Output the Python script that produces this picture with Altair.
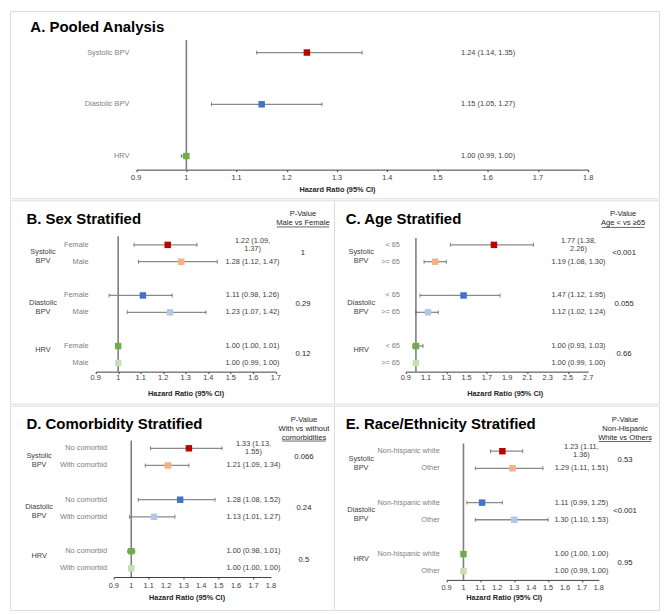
import altair as alt
import pandas as pd

SX = 651 / 669
SY = 597 / 615
FONT = "Liberation Sans"
FS = 7.4
LH = 8.3

GROUPS = ["Systolic\nBPV", "Diastolic\nBPV", "HRV"]
DARK = ["#C00000", "#4472C4", "#70AD47"]
LIGHT = ["#F4B183", "#B4C7E7", "#C5E0B4"]
AXIS_TITLE = "Hazard Ratio (95% CI)"

# ---- A. Pooled
a_title = "A. Pooled Analysis"
a_labels = ["Systolic BPV", "Diastolic BPV", "HRV"]
a_hr = [1.24, 1.15, 1.00]
a_lo = [1.14, 1.05, 0.99]
a_hi = [1.35, 1.27, 1.00]
a_text = ["1.24 (1.14, 1.35)", "1.15 (1.05, 1.27)", "1.00 (0.99, 1.00)"]
a_ticks = [0.9, 1.0, 1.1, 1.2, 1.3, 1.4, 1.5, 1.6, 1.7, 1.8]

# ---- B. Sex
b_title = "B. Sex Stratified"
b_subs = ["Female", "Male"]
b_hr = [1.22, 1.28, 1.11, 1.23, 1.00, 1.00]
b_lo = [1.07, 1.09, 0.96, 1.04, 1.00, 0.99]
b_hi = [1.35, 1.44, 1.24, 1.39, 1.01, 1.00]
b_text = ["1.22 (1.09,\n1.37)", "1.28 (1.12, 1.47)", "1.11 (0.98, 1.26)",
          "1.23 (1.07, 1.42)", "1.00 (1.00,  1.01)", "1.00 (0.99, 1.00)"]
b_p = ["1", "0.29", "0.12"]
b_head = "P-Value\nMale vs Female"
b_ticks = [0.9, 1.0, 1.1, 1.2, 1.3, 1.4, 1.5, 1.6, 1.7]

# ---- C. Age
c_title = "C. Age Stratified"
c_subs = ["< 65", ">= 65"]
c_hr = [1.77, 1.19, 1.47, 1.12, 1.00, 1.00]
c_lo = [1.34, 1.08, 1.04, 1.00, 0.97, 0.99]
c_hi = [2.16, 1.30, 1.83, 1.22, 1.07, 1.00]
c_text = ["1.77 (1.38,\n2.26)", "1.19 (1.08, 1.30)", "1.47 (1.12,  1.95)",
          "1.12 (1.02, 1.24)", "1.00 (0.93, 1.03)", "1.00 (0.99, 1.00)"]
c_p = ["<0.001", "0.055", "0.66"]
c_head = "P-Value\nAge < vs \u226565"
c_ticks = [0.9, 1.1, 1.3, 1.5, 1.7, 1.9, 2.1, 2.3, 2.5, 2.7]

# ---- D. Comorbidity
d_title = "D. Comorbidity Stratified"
d_subs = ["No comorbid", "With comorbid"]
d_hr = [1.33, 1.21, 1.28, 1.13, 1.00, 1.00]
d_lo = [1.11, 1.08, 1.04, 0.99, 0.98, 1.00]
d_hi = [1.52, 1.33, 1.48, 1.25, 1.02, 1.00]
d_text = ["1.33 (1.13,\n1.55)", "1.21 (1.09, 1.34)", "1.28 (1.08, 1.52)",
          "1.13 (1.01, 1.27)", "1.00 (0.98,  1.01)", "1.00 (1.00, 1.00)"]
d_p = ["0.066", "0.24", "0.5"]
d_head = "P-Value\nWith vs without\ncomorbidities"
d_ticks = [0.9, 1.0, 1.1, 1.2, 1.3, 1.4, 1.5, 1.6, 1.7, 1.8]

# ---- E. Race/Ethnicity
e_title = "E. Race/Ethnicity Stratified"
e_subs = ["Non-hispanic white", "Other"]
e_hr = [1.23, 1.29, 1.11, 1.30, 1.00, 1.00]
e_lo = [1.16, 1.07, 1.02, 1.07, 1.00, 0.99]
e_hi = [1.35, 1.47, 1.23, 1.50, 1.00, 1.00]
e_text = ["1.23 (1.11,\n1.36)", "1.29 (1.11, 1.51)", "1.11 (0.99,  1.25)",
          "1.30 (1.10, 1.53)", "1.00 (1.00, 1.00)", "1.00 (0.99, 1.00)"]
e_p = ["0.53", "<0.001", "0.95"]
e_head = "P-Value\nNon-Hispanic\nWhite vs Others"
e_ticks = [0.9, 1.0, 1.1, 1.2, 1.3, 1.4, 1.5, 1.6, 1.7, 1.8]


def one(v):
    return pd.DataFrame({"t": [v]})


def strat_rows(subs, hr, lo, hi, text):
    recs = []
    for g in range(3):
        for s in range(2):
            k = 2 * g + s
            recs.append(dict(idx=3 * g + s, sub=subs[s], hr=hr[k], lo=lo[k], hi=hi[k],
                             text=text[k], multi="\n" in text[k],
                             color=DARK[g] if s == 0 else LIGHT[g]))
    return pd.DataFrame(recs)


def strat_groups(p):
    return pd.DataFrame(dict(label=GROUPS, ymid=[0.5, 3.5, 6.5], p=p,
                             multi=["\n" in g for g in GROUPS]))


def panel(rows, L, W, H, groups=None):
    xs = alt.Scale(domain=[L["t0"], L["t1"]], range=[L["x0"] * SX, L["x1"] * SX],
                   nice=False, zero=False)
    ys = alt.Scale(domain=[0, L["n"]], range=[L["r0"] * SY, L["r1"] * SY],
                   nice=False, zero=False)
    axis = alt.Axis(values=L["ticks"], labels=False, title=AXIS_TITLE,
                    offset=L["ay"] * SY - H, tickSize=2,
                    domainColor="#404040", tickColor="#404040", domainWidth=1,
                    titleFont=FONT, titleFontSize=FS, titleFontWeight="bold",
                    titleColor="#262626", titleX=L["tx"] * SX,
                    titleY=(L["ty"] - L["ay"]) * SY, titleBaseline="middle",
                    titleAlign="center", grid=False)
    Y = alt.Y("idx:Q", scale=ys, axis=None)
    base = alt.Chart(rows)
    layers = []
    layers.append(base.mark_rule(color="#8a8a8a", strokeWidth=1.3).encode(
        x=alt.X("lo:Q", scale=xs, axis=axis), x2="hi:Q", y=Y))
    tick_df = pd.DataFrame({"v": L["ticks"], "lab": [f"{v:g}" for v in L["ticks"]]})
    layers.append(alt.Chart(tick_df).mark_text(
        align="center", baseline="middle", font=FONT, fontSize=FS,
        color="#404040").encode(x=alt.X("v:Q", scale=xs),
                                y=alt.value(L["ly"] * SY), text="lab:N"))
    layers.append(alt.Chart(one(1)).mark_rule(color="#7f7f7f", strokeWidth=1.6).encode(
        x=alt.X(datum=1.0, scale=xs),
        y=alt.value(L["reftop"] * SY), y2=alt.value(L["ay"] * SY)))
    for f in ["lo", "hi"]:
        layers.append(base.mark_tick(orient="vertical", size=4, thickness=1,
                                     color="#595959").encode(
            x=alt.X(f + ":Q", scale=xs), y=Y))
    layers.append(base.mark_square(size=42, opacity=1).encode(
        x=alt.X("hr:Q", scale=xs), y=Y,
        color=alt.Color("color:N", scale=None)))
    layers.append(base.mark_text(align="right", baseline="middle", font=FONT,
                                 fontSize=FS, color=L.get("lc", "#7f7f7f")).encode(
        x=alt.value(L["lx"] * SX), y=Y, text="sub:N"))
    if "multi" in rows.columns:
        layers.append(base.transform_filter("datum.multi").mark_text(
            align=L["ha"], baseline="middle", font=FONT, fontSize=FS,
            lineBreak="\n", lineHeight=LH, color="#404040", dy=-LH / 2).encode(
            x=alt.value(L["hx"] * SX), y=Y, text="text:N"))
        layers.append(base.transform_filter("!datum.multi").mark_text(
            align=L["ha"], baseline="middle", font=FONT, fontSize=FS,
            color="#404040").encode(
            x=alt.value(L["hx"] * SX), y=Y, text="text:N"))
    else:
        layers.append(base.mark_text(align=L["ha"], baseline="middle", font=FONT,
                                     fontSize=FS, color="#404040").encode(
            x=alt.value(L["hx"] * SX), y=Y, text="text:N"))
    layers.append(alt.Chart(one(L["title"])).mark_text(
        align="left", baseline="middle", font=FONT, fontSize=15, fontWeight="bold",
        color="#000000").encode(x=alt.value(L["tpos"][0] * SX),
                                y=alt.value(L["tpos"][1] * SY), text="t:N"))
    if groups is not None:
        GY = alt.Y("ymid:Q", scale=ys, axis=None)
        gb = alt.Chart(groups)
        layers.append(gb.transform_filter("datum.multi").mark_text(
            align="center", baseline="middle", font=FONT, fontSize=FS,
            lineBreak="\n", lineHeight=8.8, color="#404040", dy=-1).encode(
            x=alt.value(L["gx"] * SX), y=GY, text="label:N"))
        layers.append(gb.transform_filter("!datum.multi").mark_text(
            align="center", baseline="middle", font=FONT, fontSize=FS,
            color="#404040", dy=-4).encode(
            x=alt.value(L["gx"] * SX), y=GY, text="label:N"))
        layers.append(gb.mark_text(align="center", baseline="middle", font=FONT,
                                   fontSize=7.7, color="#262626").encode(
            x=alt.value(L["px"] * SX), y=GY, text="p:N"))
        layers.append(alt.Chart(one(L["head"])).mark_text(
            align="center", baseline="middle", font=FONT, fontSize=7.6,
            lineBreak="\n", lineHeight=9.1, color="#262626").encode(
            x=alt.value(L["hdx"] * SX), y=alt.value(L["hdy"] * SY), text="t:N"))
        ux, uw, uy = L["ul"]
        layers.append(alt.Chart(one(0)).mark_rule(color="#404040", strokeWidth=0.8).encode(
            x=alt.value((ux - uw / 2) * SX), x2=alt.value((ux + uw / 2) * SX),
            y=alt.value(uy * SY)))
    return alt.layer(*layers).properties(width=W, height=H)


rows_a = pd.DataFrame(dict(idx=[0, 1, 2], sub=a_labels, hr=a_hr, lo=a_lo, hi=a_hi,
                           text=a_text, color=DARK))
LA = dict(x0=130, x1=596, t0=0.9, t1=1.8, ticks=a_ticks, r0=43, r1=150, n=2, ay=164,
          ly=173, tx=337, ty=185, reftop=30, lx=123, hx=465, ha="left",
          title=a_title, tpos=(21, 17))
LB = dict(x0=88.3, x1=274, t0=0.9, t1=1.7, ticks=b_ticks, r0=46, r1=168, n=7, ay=177,
          ly=184, tx=181, ty=200, reftop=37, lx=81, gx=34, hx=250, ha="center",
          px=302, title=b_title, tpos=(17, 19), head=b_head, hdx=302, hdy=14.3,
          ul=(302, 54, 27.5), lc="#808080")
LC = dict(x0=74, x1=262, t0=0.9, t1=2.7, ticks=c_ticks, r0=46, r1=168, n=7, ay=177,
          ly=184, tx=176, ty=200, reftop=39, lx=68, gx=28, hx=252, ha="center",
          px=299, title=c_title, tpos=(12, 19), head=c_head, hdx=298, hdy=14.3,
          ul=(298, 44, 28), lc="#808080")
LD = dict(x0=107, x1=269, t0=0.9, t1=1.8, ticks=d_ticks, r0=44, r1=168, n=7, ay=177,
          ly=186, tx=182, ty=198, reftop=36, lx=100, gx=30, hx=251, ha="center",
          px=303, title=d_title, tpos=(17, 19), head=d_head, hdx=303, hdy=14.3,
          ul=(303, 45, 36.5), lc="#808080")
LE = dict(x0=116, x1=273, t0=0.9, t1=1.8, ticks=e_ticks, r0=47, r1=171, n=7, ay=180,
          ly=188, tx=175, ty=198, reftop=39, lx=109, gx=28, hx=255, ha="center",
          px=300, title=e_title, tpos=(12, 19), head=e_head, hdx=300, hdy=14.3,
          ul=(300, 54, 37), lc="#808080")

pA = panel(rows_a, LA, 651, 188)
pB = panel(strat_rows(b_subs, b_hr, b_lo, b_hi, b_text), LB, 325, 204, strat_groups(b_p))
pC = panel(strat_rows(c_subs, c_hr, c_lo, c_hi, c_text), LC, 326, 204, strat_groups(c_p))
pD = panel(strat_rows(d_subs, d_hr, d_lo, d_hi, d_text), LD, 325, 205, strat_groups(d_p))
pE = panel(strat_rows(e_subs, e_hr, e_lo, e_hi, e_text), LE, 326, 205, strat_groups(e_p))

mid = alt.hconcat(pB, pC, spacing=0, bounds="flush")
bot = alt.hconcat(pD, pE, spacing=0, bounds="flush")
chart = (alt.vconcat(pA, mid, bot, spacing=0)
         .properties(padding=1)
         .configure_view(stroke="#333333", strokeWidth=1.2)
         .configure(font=FONT))

chart.save("out.html", embed_options={"renderer": "svg", "actions": False})
